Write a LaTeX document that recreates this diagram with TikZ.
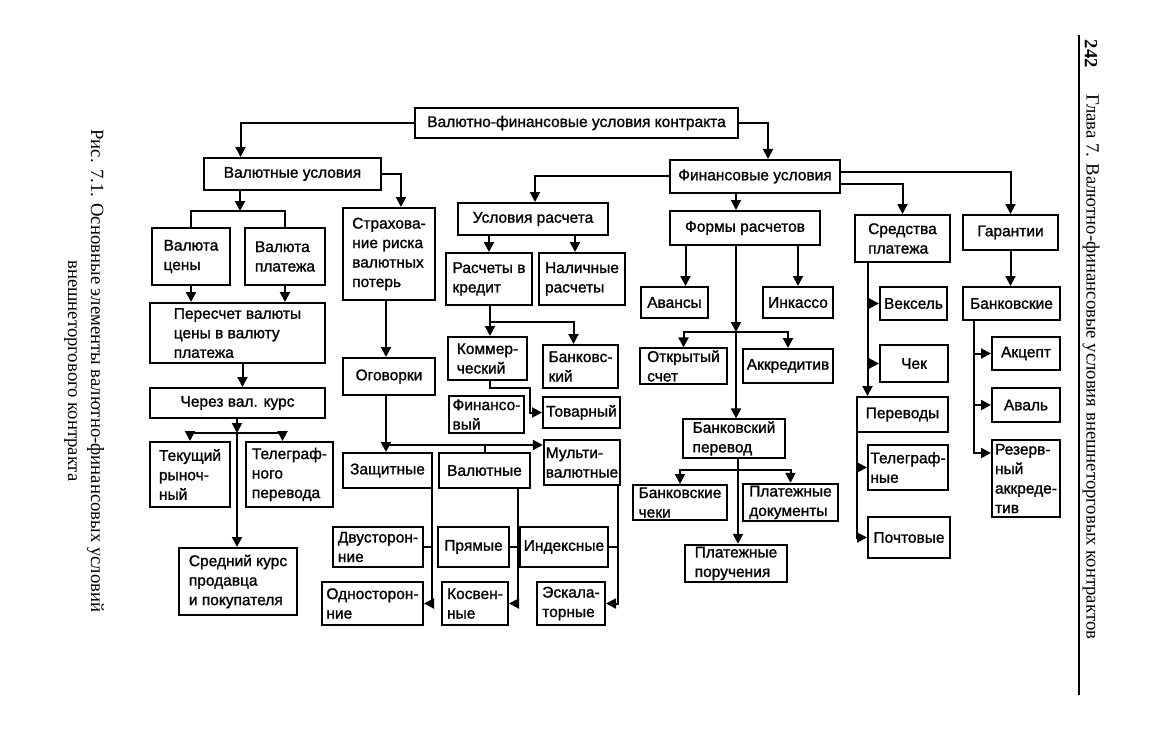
\documentclass[tikz,border=0pt]{standalone}
\usepackage{fontspec}
\setmainfont[FakeBold=1.2]{Liberation Sans}
\newfontfamily\capfont{Liberation Serif}
\usetikzlibrary{arrows.meta}
\tikzset{
  blk/.style={draw,line width=2pt,inner sep=2pt,align=left,font=\fontsize{15.5}{19.5}\selectfont},
  ln/.style={line width=2pt},
  arr/.style={line width=2pt,-{Triangle[length=10pt,width=10pt]}},
  captxt/.style={font=\capfont\fontsize{18.7}{23}\selectfont,rotate=-90,align=center,inner sep=0pt},
}

\begin{document}
\begin{tikzpicture}[x=1pt,y=-1pt]
  \useasboundingbox (0,0) rectangle (1165,749);
  % Kopf und Unterschrift
  \node[captxt] (ris) at (84,371) {Рис. 7.1. Основные элементы валютно-финансовых условий\\внешнеторгового контракта};
  \node[captxt] (pg) at (1091,54) {\bfseries 242};
  \node[captxt] (glava) at (1091,367) {Глава 7. Валютно-финансовые условия внешнеторговых контрактов};
  \draw[line width=2pt] (1079,35) -- (1079,695);
  % oberste Ebene
  \node[blk,minimum width=323,minimum height=30] (vfu) at (576.5,123) {Валютно-финансовые условия контракта};
  \node[blk,minimum width=177,minimum height=32] (valusl) at (292.5,174) {Валютные условия};
  \node[blk,minimum width=170,minimum height=33] (finusl) at (755,176.5) {Финансовые условия};
  % Валютные условия
  \node[blk,minimum width=78,minimum height=57] (valcen) at (191,256.5) {Валюта\\цены};
  \node[blk,minimum width=80,minimum height=57] (valpl) at (285,256.5) {Валюта\\платежа};
  \node[blk,minimum width=92,minimum height=92] (strah) at (389,254) {Страхова-\\ние риска\\валютных\\потерь};
  \node[blk,minimum width=175,minimum height=60] (peresch) at (237.5,333) {Пересчет валюты\\цены в валюту\\платежа};
  \node[blk,minimum width=175,minimum height=30] (cherez) at (237.5,403) {Через вал. курс};
  \node[blk,minimum width=80,minimum height=65] (tekush) at (190,474.5) {Текущий\\рыноч-\\ный};
  \node[blk,minimum width=87,minimum height=65] (telegr) at (289.5,474.5) {Телеграф-\\ного\\перевода};
  \node[blk,minimum width=118,minimum height=67] (sredn) at (238,581.5) {Средний курс\\продавца\\и покупателя};
  \node[blk,minimum width=92,minimum height=37] (ogov) at (389,376.5) {Оговорки};
  \node[blk,minimum width=89,minimum height=35] (zasch) at (387.5,470.5) {Защитные};
  \node[blk,minimum width=91,minimum height=35] (valyut) at (484.5,470.5) {Валютные};
  \node[blk,minimum width=76,minimum height=45] (multi) at (582,462.5) {Мульти-\\валютные};
  \node[blk,minimum width=90,minimum height=40] (dvust) at (378,547) {Двусторон-\\ние};
  \node[blk,minimum width=101,minimum height=43] (odnost) at (372.5,603.5) {Односторон-\\ние};
  \node[blk,minimum width=71,minimum height=40] (pryam) at (473.5,547) {Прямые};
  \node[blk,minimum width=66,minimum height=43] (kosv) at (475,603.5) {Косвен-\\ные};
  \node[blk,minimum width=88,minimum height=40] (indeks) at (564,547) {Индексные};
  \node[blk,minimum width=68,minimum height=43] (eskal) at (571,603.5) {Эскала-\\торные};
  % Условия расчета
  \node[blk,minimum width=150,minimum height=32] (uslras) at (533,219) {Условия расчета};
  \node[blk,minimum width=86,minimum height=52] (raskred) at (489,279) {Расчеты в\\кредит};
  \node[blk,minimum width=86,minimum height=52] (nalich) at (582,279) {Наличные\\расчеты};
  \node[blk,minimum width=79,minimum height=43] (kommer) at (487.5,358.5) {Коммер-\\ческий};
  \node[blk,minimum width=75,minimum height=43] (bankovsk) at (580.5,366.5) {Банковс-\\кий};
  \node[blk,minimum width=75,minimum height=37] (finans) at (486.5,414.5) {Финансо-\\вый};
  \node[blk,minimum width=77,minimum height=31] (tovar) at (581.5,412.5) {Товарный};
  % Формы расчетов
  \node[blk,minimum width=150,minimum height=34] (formy) at (745,228) {Формы расчетов};
  \node[blk,minimum width=67,minimum height=31] (avans) at (674.5,302.5) {Авансы};
  \node[blk,minimum width=70,minimum height=31] (inkasso) at (798,302.5) {Инкассо};
  \node[blk,minimum width=87,minimum height=34] (otkr) at (683.5,366) {Открытый\\счет};
  \node[blk,minimum width=90,minimum height=34] (akkred) at (788,366) {Аккредитив};
  \node[blk,minimum width=102,minimum height=37] (bankper) at (734,438.5) {Банковский\\перевод};
  \node[blk,minimum width=94,minimum height=35] (bchek) at (680,502.5) {Банковские\\чеки};
  \node[blk,minimum width=95,minimum height=35] (pldoc) at (790.5,502.5) {Платежные\\документы};
  \node[blk,minimum width=102,minimum height=33] (plpor) at (736,563.5) {Платежные\\поручения};
  % Средства платежа
  \node[blk,minimum width=95,minimum height=47] (sredst) at (902.5,238.5) {Средства\\платежа};
  \node[blk,minimum width=67,minimum height=33] (veksel) at (913.5,303.5) {Вексель};
  \node[blk,minimum width=68,minimum height=37] (chek) at (914,363.5) {Чек};
  \node[blk,minimum width=91,minimum height=35] (perev) at (902.5,414.5) {Переводы};
  \node[blk,minimum width=80,minimum height=45] (telegrn) at (908,467.5) {Телеграф-\\ные};
  \node[blk,minimum width=82,minimum height=41] (pocht) at (909,537.5) {Почтовые};
  % Гарантии
  \node[blk,minimum width=95,minimum height=35] (garant) at (1010.5,232.5) {Гарантии};
  \node[blk,minimum width=97,minimum height=33] (bankg) at (1011.5,303.5) {Банковские};
  \node[blk,minimum width=68,minimum height=33] (akcept) at (1026,353.5) {Акцепт};
  \node[blk,minimum width=68,minimum height=34] (aval) at (1026,405) {Аваль};
  \node[blk,minimum width=68,minimum height=77] (rezerv) at (1026,478.5) {Резерв-\\ный\\аккреде-\\тив};

  % Verbindungen oben
  \coordinate (a1) at ([xshift=-52]valusl.north);
  \draw[arr] (vfu.west) -| (a1);
  \coordinate (a2) at ([xshift=13]finusl.north);
  \draw[arr] (vfu.east) -| (a2);
  % Валютные условия
  \coordinate (j1) at (240,211);
  \draw[arr] (valusl.south -| j1) -- (j1);
  \draw[ln] (valcen.north) |- (j1) -| (valpl.north);
  \coordinate (a3) at ([xshift=12]strah.north);
  \draw[arr] (valusl.east) -| (a3);
  \draw[arr] (valcen.south) -- (valcen.south |- peresch.north);
  \draw[arr] (valpl.south) -- (valpl.south |- peresch.north);
  \coordinate (a4) at ([xshift=5]peresch.south);
  \draw[arr] (a4) -- (a4 |- cherez.north);
  \coordinate (j2) at (237,433);
  \draw[arr] (cherez.south -| j2) -- (j2);
  \draw[arr] (j2) -- (j2 |- sredn.north);
  \draw[arr] (j2) -| (tekush.north);
  \coordinate (a5) at ([xshift=-7]telegr.north);
  \draw[arr] (j2) -| (a5);
  % Оговорки
  \coordinate (a6) at ([xshift=-3]strah.south);
  \draw[arr] (a6) -- (a6 |- ogov.north);
  \coordinate (j3) at (386,445);
  \draw[arr] (a6 |- ogov.south) -- (a6 |- zasch.north);
  \draw[arr] (j3) -- (j3 -| multi.west);
  \draw[ln] (valyut.north) -- (valyut.north |- j3);
  \coordinate (a7) at ([xshift=-1]zasch.south east);
  \draw[arr] (a7) |- (odnost.east);
  \draw[ln] (dvust.east) -- (dvust.east -| a7);
  \coordinate (a8) at ([xshift=33.5]valyut.south);
  \draw[arr] (a8) |- (kosv.east);
  \draw[ln] (pryam.east) -- (pryam.east -| a8);
  \coordinate (a9) at ([xshift=36]multi.south);
  \draw[arr] (a9) |- (eskal.east);
  \draw[ln] (indeks.east) -- (indeks.east -| a9);
  % Финансовые условия
  \coordinate (b1) at ([xshift=2]uslras.north);
  \draw[arr] (finusl.west) -| (b1);
  \coordinate (b2) at ([xshift=-19]finusl.south);
  \draw[arr] (b2) -- (b2 |- formy.north);
  \coordinate (b3) at ([yshift=-7.5]finusl.east);
  \draw[arr] (b3) -| (sredst.north);
  \coordinate (b4) at ([yshift=4.5]finusl.east);
  \draw[arr] (b4) -| (garant.north);
  % Условия расчета
  \draw[arr] (uslras.south -| raskred.north) -- (raskred.north);
  \coordinate (b5) at ([xshift=-7]nalich.north);
  \draw[arr] (b5 |- uslras.south) -- (b5);
  \coordinate (j4) at (490,322);
  \draw[arr] (raskred.south -| j4) -- (j4 |- kommer.north);
  \coordinate (b6) at ([xshift=-7]bankovsk.north);
  \draw[arr] (j4) -| (b6);
  \coordinate (j5) at (530,388);
  \draw[arr] (kommer.south -| j4) |- (j5) |- (tovar.west);
  % Формы расчетов
  \coordinate (c1) at ([xshift=11]avans.north);
  \draw[arr] (c1 |- formy.south) -- (c1);
  \draw[arr] (inkasso.north |- formy.south) -- (inkasso.north);
  \coordinate (j6) at (736,332);
  \draw[arr] (j6 |- formy.south) -- (j6);
  \draw[arr] (j6) -- (j6 |- bankper.north);
  \draw[arr] (j6) -| (otkr.north);
  \draw[arr] (j6) -| (akkred.north);
  % Банковский перевод
  \coordinate (j7) at (738,470);
  \draw[ln] (j7 |- bankper.south) -- (j7);
  \draw[arr] (j7) -- (j7 |- plpor.north);
  \draw[arr] (j7) -| (bchek.north);
  \draw[arr] (j7) -| (pldoc.north);
  % Средства платежа
  \coordinate (d1) at ([xshift=-35]sredst.south);
  \draw[arr] (d1) -- (d1 |- perev.north);
  \draw[arr] (d1 |- veksel.west) -- (veksel.west);
  \draw[arr] (d1 |- chek.west) -- (chek.west);
  \coordinate (d2) at ([xshift=1]perev.south west);
  \draw[arr] (d2) |- (pocht.west);
  \draw[arr] (d2 |- telegrn.west) -- (telegrn.west);
  % Гарантии
  \draw[arr] (garant.south) -- (garant.south |- bankg.north);
  \coordinate (e1) at ([xshift=12]bankg.south west);
  \coordinate (e2) at ([yshift=25.5]rezerv.west);
  \draw[arr] (e1) |- (e2);
  \draw[arr] (e1 |- akcept.west) -- (akcept.west);
  \draw[arr] (e1 |- aval.west) -- (aval.west);
\end{tikzpicture}
\end{document}
